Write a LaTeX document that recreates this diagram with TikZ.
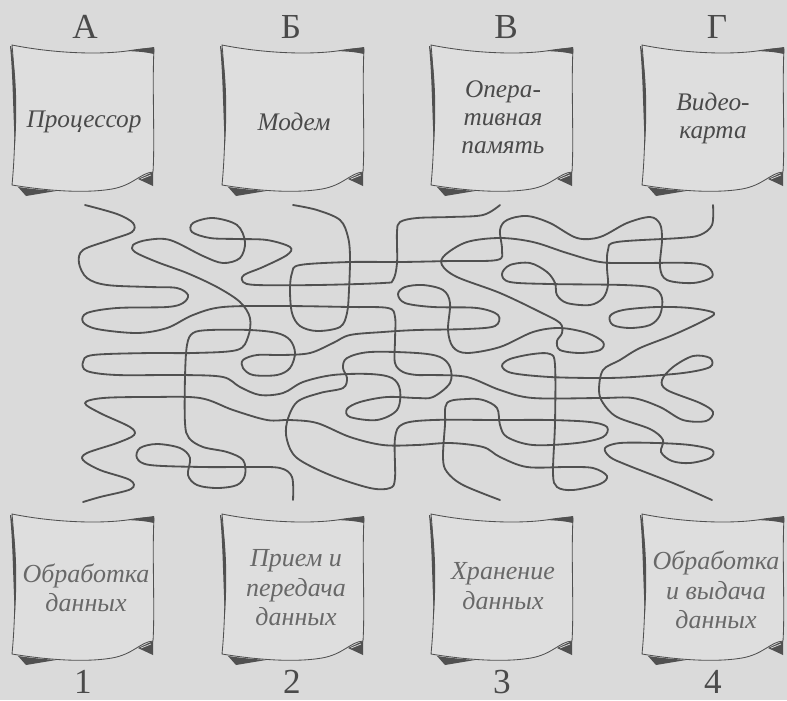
\documentclass[tikz,border=0pt]{standalone}
\usepackage{fontspec}
\setmainfont{Liberation Serif}
\usepackage{tikz}
\usepackage{xcolor}
\definecolor{pgbg}{HTML}{DADADA}
\definecolor{pgcard}{HTML}{DEDEDE}
\definecolor{pgink}{HTML}{505050}
\definecolor{pgtext}{HTML}{4A4A4A}
\definecolor{pgsoft}{HTML}{686868}

\begin{document}
\begin{tikzpicture}[x=0.025cm, y=-0.025cm,
    strand/.style={draw=pgink, line width=1.3pt, line cap=round, line join=round},
    cardtext/.style={font=\fontsize{18}{20}\selectfont\itshape, text=pgtext, align=center},
    lowtext/.style={font=\fontsize{18.5}{21}\selectfont\itshape, text=pgsoft, align=center},
    letter/.style={font=\fontsize{25}{28}\selectfont, text=pgtext, inner sep=0pt},
    scroll/.pic={
      \path[fill=pgcard, draw=pgink, line width=0.6pt]
        (0,0) .. controls (40,8) and (85,10) .. (115,6)
        .. controls (128,4) and (136,3) .. (142,4)
        .. controls (140,40) and (143,95) .. (141,127)
        .. controls (128,128) and (122,140) .. (100,144)
        .. controls (70,149) and (30,145) .. (0,140)
        .. controls (4,100) and (4,40) .. (0,0) -- cycle;
      \fill[pgink] (-1,1) .. controls (5,30) and (5,70) .. (3,100)
        .. controls (1,70) and (1,30) .. (-2,1) -- cycle;
      \fill[pgink] (116,6) .. controls (128,4) .. (142,2) -- (142,9)
        .. controls (132,7) .. (116,6) -- cycle;
      \fill[pgink] (6,142) .. controls (20,144) .. (44,146) -- (14,151) -- cycle;
      \fill[pgink] (126,134) -- (141,127) -- (141,141) -- cycle;
      \draw[pgcard, line width=0.5pt] (129,134) -- (139,130);
    }]
  \fill[pgbg] (0,0) rectangle (787,700);
  \useasboundingbox (0,0) rectangle (787,700);

  % column letters
  \node[letter] (la) at (85,27) {А};
  \node[letter] (lb) at (291,27) {Б};
  \node[letter] (lv) at (506,27) {В};
  \node[letter] (lg) at (717,27) {Г};

  % upper cards
  \pic at (12,45) {scroll};
  \pic at (222,45) {scroll};
  \pic at (431,45) {scroll};
  \pic at (642,45) {scroll};
  \node[cardtext] (proc) at (84,122) {Процессор};
  \node[cardtext] (modem) at (294,122) {Модем};
  \node[cardtext] (ram) at (503,117) {Опера-\\тивная\\память};
  \node[cardtext] (video) at (713,118) {Видео-\\карта};

  % lower cards
  \pic at (12,514) {scroll};
  \pic at (222,514) {scroll};
  \pic at (431,514) {scroll};
  \pic at (642,514) {scroll};
  \node[lowtext] (calc) at (86,588) {Обработка\\данных};
  \node[lowtext] (link) at (296,588) {Прием и\\передача\\данных};
  \node[lowtext] (store) at (503,586) {Хранение\\данных};
  \node[lowtext] (output) at (716,590) {Обработка\\и выдача\\данных};

  \node[letter] (n1) at (83,682) {1};
  \node[letter] (n2) at (292,682) {2};
  \node[letter] (n3) at (502,682) {3};
  \node[letter] (n4) at (713,682) {4};

  % the tangle
  \draw[strand] plot[smooth, tension=0.55] coordinates {
    (85,205) (117,214) (133,223) (132,232) (110,240) (83,250) (79,263)
    (87,278) (107,285) (150,287) (177,288) (188,295) (183,303) (167,307)
    (117,308) (87,313) (83,322) (97,329) (137,333) (167,328) (193,315)
    (223,307) (283,306) (350,307) (388,308) (395,317) (395,340) (395,363)
    (403,372) (417,375) (433,375) (467,377) (500,390) (533,398) (600,398)
    (633,398) (660,407) (683,420) (706,421) (713,412) (700,403) (667,390)
    (662,380) (673,367) (693,356) (710,358) (710,367) (683,373) (633,377)
    (600,378) (550,377) (512,373) (502,366) (510,359) (533,354) (550,354)
    (555,365) (555,423) (553,473) (557,487) (573,490) (600,484) (607,476)
    (593,468) (567,467) (527,467) (500,457) (483,447) (450,443) (417,445)
    (383,445) (350,437) (317,423) (290,420) (267,420) (233,410) (200,398)
    (150,397) (103,398) (85,403) (100,413) (130,427) (134,435) (117,443)
    (87,453) (83,460) (100,470) (130,480) (131,489) (100,497) (83,502)};
  \draw[strand] plot[smooth, tension=0.55] coordinates {
    (293,205) (317,210) (340,220) (348,237) (350,257) (349,290) (347,313)
    (340,327) (317,331) (300,326) (292,313) (290,290) (292,273) (300,265)
    (350,262) (400,262) (450,261) (497,260) (502,250) (500,230) (507,220)
    (527,216) (550,223) (577,238) (600,237) (627,223) (650,217) (660,224)
    (662,240) (660,267) (667,280) (693,283) (712,277) (708,267) (690,263)
    (633,263) (600,262) (567,253) (533,242) (500,238) (467,242) (445,255)
    (442,265) (457,277) (500,293) (540,312) (560,323) (562,333) (557,341)
    (560,350) (580,353) (600,350) (603,342) (587,333) (560,328) (533,332)
    (500,347) (467,353) (453,347) (448,330) (450,303) (443,290) (423,285)
    (405,287) (398,294) (405,303) (433,307) (477,308) (498,315) (495,326)
    (467,329) (417,330) (383,332) (350,335) (333,343) (310,353) (283,355)
    (257,355) (243,360) (243,368) (253,375) (277,375) (290,368) (295,353)
    (290,340) (277,333) (250,330) (210,330) (193,333) (187,345) (185,377)
    (185,423) (189,438) (203,447) (227,452) (243,460) (245,475) (237,485)
    (217,488) (197,485) (188,475) (190,458) (180,448) (157,444) (140,448)
    (137,458) (150,465) (203,467) (250,467) (280,468) (292,477) (293,500)};
  \draw[strand] plot[smooth, tension=0.55] coordinates {
    (500,205) (483,215) (450,217) (417,218) (400,222) (397,232) (397,263)
    (393,280) (383,283) (317,285) (257,285) (243,282) (244,275) (263,267)
    (287,255) (290,247) (267,240) (237,239) (210,238) (192,232) (193,223)
    (213,218) (237,225) (245,242) (240,258) (223,263) (203,256) (170,240)
    (147,240) (133,245) (135,252) (157,262) (187,273) (217,287) (240,302)
    (250,318) (248,337) (237,350) (193,353) (150,353) (93,355) (83,362)
    (87,371) (117,375) (183,375) (223,377) (240,387) (260,395) (283,393)
    (303,382) (333,375) (370,374) (392,378) (400,390) (397,410) (377,420)
    (350,417) (347,409) (360,402) (387,397) (417,398) (433,397) (450,383)
    (450,367) (440,357) (417,353) (370,352) (347,358) (343,368) (347,378)
    (343,388) (320,393) (297,402) (287,422) (287,440) (297,458) (330,475)
    (370,488) (390,488) (395,478) (395,438) (403,424) (433,420) (500,420)
    (550,420) (590,422) (607,427) (603,437) (577,443) (533,445) (507,437)
    (500,425) (497,408) (483,400) (467,399) (447,403) (445,425) (443,458)
    (447,472) (463,485) (500,500)};
  \draw[strand] plot[smooth, tension=0.55] coordinates {
    (713,205) (712,225) (700,235) (680,238) (617,242) (608,250) (607,268)
    (608,285) (603,298) (590,305) (567,303) (557,295) (555,283) (547,272)
    (530,263) (510,265) (502,274) (510,282) (550,284) (623,285) (653,288)
    (662,298) (660,315) (650,325) (630,328) (613,325) (610,316) (623,310)
    (657,307) (690,308) (714,313) (703,321) (673,335) (640,348) (620,360)
    (603,370) (599,390) (603,403) (617,417) (650,429) (663,440) (661,452)
    (672,461) (690,463) (710,458) (712,450) (690,445) (657,443) (620,443)
    (605,448) (610,457) (627,465) (673,483) (712,500)};
\end{tikzpicture}
\end{document}
